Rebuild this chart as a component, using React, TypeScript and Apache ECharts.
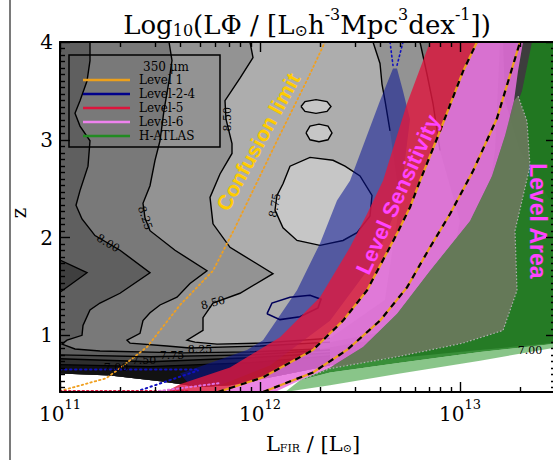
import { useEffect, useRef } from "react";
import * as echarts from "echarts";

type P = [number, number];

// ---------- axes (x = log10 L_FIR, y = z) ----------
const X_MIN = 11;
const X_MAX = 13.48;
const Y_MIN = 0.42;
const Y_MAX = 4.0;
const X_DECADES = [11, 12, 13];
const X_MINOR_MULTIPLIERS = [2, 3, 4, 5, 6, 7, 8, 9];
const Y_MAJOR = [1, 2, 3, 4];
const Y_MINOR_PER_UNIT = 15;

// ---------- legend ----------
const LEGEND_TITLE = "350 μm";
const LEGEND_LABELS = ["Level 1", "Level-2-4", "Level-5", "Level-6", "H-ATLAS"];
const LEGEND_COLORS = ["#eca01c", "#00008b", "#dc143c", "#ee82ee", "#228b22"];

// ---------- grey-scale luminosity-function contours ----------
const BASE_REGION: P[] = [[11, 4], [13.6, 4], [13.6, 1.0], [13.465, 0.92], [13.1, 0.85], [12.7, 0.77], [12.35, 0.69], [12.1, 0.59], [11.85, 0.49], [11.7, 0.47], [11.5, 0.53], [11.25, 0.59], [11, 0.61]];
const DARK_TOP_RIGHT: P[] = [[13.215, 4], [13.6, 4], [13.6, 1.87], [13.3, 2.89], [13.225, 3.4]];
const C800: P[] = [[11.15, 4.0], [11.15, 3.81], [11.135, 3.6], [11.1, 3.4], [11.075, 3.27], [11.1, 3.14], [11.15, 2.99], [11.14, 2.73], [11.1, 2.48], [11.08, 2.33], [11.11, 2.19], [11.175, 2.02], [11.3, 1.87], [11.45, 1.64], [11.3, 1.43], [11.2, 1.33], [11.15, 1.26], [11.115, 1.1], [11.11, 1.0], [11.035, 0.95], [11.01, 0.91], [11.075, 0.86], [11.2, 0.84], [11.615, 0.82], [11.95, 0.83], [12.3, 0.86]];
const C800_CLOSE: P[] = [[12.85, 1.05], [13.1, 1.87], [13.175, 2.89], [13.2, 4.0]];
const C825: P[] = [[11.545, 4.0], [11.56, 3.81], [11.545, 3.6], [11.52, 3.3], [11.5, 2.99], [11.475, 2.79], [11.45, 2.53], [11.415, 2.35], [11.425, 2.2], [11.45, 2.07], [11.575, 1.87], [11.735, 1.66], [11.65, 1.53], [11.585, 1.39], [11.5, 1.31], [11.45, 1.23], [11.415, 1.15], [11.4, 1.02], [11.335, 0.95], [11.35, 0.92], [11.535, 0.89], [11.65, 0.87], [12.0, 0.89], [12.35, 0.93]];
const C825_CLOSE: P[] = [[12.9, 1.15], [13.0, 2.17], [12.9, 2.89], [12.865, 3.37], [12.835, 3.67], [12.8, 4.0]];
const C825_RIGHT: P[] = [[12.8, 4.0], [12.835, 3.67], [12.865, 3.37], [12.9, 2.89]];
const C850: P[] = [[11.95, 4.0], [11.965, 3.84], [11.9, 3.63], [11.825, 3.4], [11.83, 3.21], [11.86, 2.96], [11.86, 2.86], [11.8, 2.65], [11.75, 2.41], [11.765, 2.14], [11.85, 1.9], [12.065, 1.63], [11.9, 1.43], [11.765, 1.33], [11.715, 1.18], [11.715, 1.05], [11.635, 0.95], [11.675, 0.93], [11.785, 0.91], [12.0, 0.92], [12.35, 0.97]];
const C850_CLOSE: P[] = [[12.625, 1.36], [12.7, 2.38], [12.65, 3.09], [12.625, 3.4], [12.61, 3.57], [12.6, 3.78], [12.565, 4.0]];
const C850_RIGHT: P[] = [[12.565, 4.0], [12.6, 3.78], [12.61, 3.57], [12.625, 3.4], [12.65, 3.09]];
const C875_BLOB: P[] = [[12.115, 2.55], [12.15, 2.73], [12.25, 2.82], [12.365, 2.79], [12.425, 2.73], [12.5, 2.63], [12.56, 2.43], [12.55, 2.22], [12.485, 2.05], [12.415, 1.97], [12.3, 1.92], [12.185, 1.97], [12.115, 2.1], [12.075, 2.28], [12.085, 2.43]];
const C875_SMALL_1: P[] = [[12.205, 3.34], [12.225, 3.39], [12.28, 3.41], [12.335, 3.39], [12.355, 3.34], [12.335, 3.29], [12.28, 3.27], [12.225, 3.29]];
const C875_SMALL_2: P[] = [[12.23, 3.07], [12.25, 3.14], [12.295, 3.16], [12.34, 3.14], [12.36, 3.07], [12.34, 3.0], [12.295, 2.98], [12.25, 3.0]];
const C775_WEDGE: P[] = [[11, 1.77], [11.135, 1.64], [11, 1.44]];
const LOWER_EDGE: P[] = [[12.35, 0.69], [12.1, 0.59], [11.85, 0.49], [11.7, 0.47], [11.5, 0.53], [11.25, 0.59], [11, 0.61]];
const C775_BOTTOM: P[] = [[11, 0.8], [11.45, 0.78], [11.95, 0.8], [12.35, 0.85]];
const C750_BOTTOM: P[] = [[11, 0.76], [11.45, 0.73], [11.95, 0.77], [12.35, 0.82]];
const C700_BOTTOM: P[] = [[11, 0.7], [11.45, 0.68], [11.95, 0.72], [12.35, 0.79]];

// ---------- survey bands ----------
const BLUE_BAND: P[] = [[11.6, 0.61], [11.7, 0.68], [11.935, 0.85], [12.015, 0.95], [12.185, 1.46], [12.3, 1.94], [12.385, 2.38], [12.45, 2.58], [12.525, 2.99], [12.6, 3.4], [12.665, 3.73], [12.685, 3.73], [12.715, 3.5], [12.75, 3.21], [12.7, 2.38], [12.575, 1.77], [12.35, 1.15], [12.05, 0.69], [11.8, 0.49], [11.65, 0.49]];
const BLUE_LOOP: P[] = [[12.035, 1.22], [12.06, 1.33], [12.15, 1.39], [12.25, 1.41], [12.305, 1.37], [12.29, 1.28], [12.2, 1.19], [12.1, 1.16]];
const RED_LEFT: P[] = [[11.525, 0.42], [11.6, 0.5], [11.85, 0.67], [12.1, 0.98], [12.3, 1.39], [12.45, 1.9], [12.535, 2.24], [12.615, 2.58], [12.735, 3.37], [12.85, 4.0]];
const DASHED_1: P[] = [[11.79, 0.42], [12.015, 0.57], [12.265, 0.85], [12.415, 1.15], [12.535, 1.46], [12.615, 1.77], [12.685, 2.04], [12.75, 2.31], [12.8, 2.58], [12.9, 3.09], [13.015, 3.7], [13.085, 4.0]];
const DASHED_2: P[] = [[12.015, 0.42], [12.265, 0.62], [12.435, 0.85], [12.6, 1.15], [12.735, 1.49], [12.85, 1.9], [12.95, 2.24], [13.065, 2.68], [13.185, 3.22], [13.3, 4.0]];
const PINK_RIGHT: P[] = [[13.315, 4.0], [13.29, 3.7], [13.27, 3.4], [13.225, 3.04], [13.16, 2.63], [13.05, 2.17], [12.85, 1.66], [12.685, 1.22], [12.515, 0.88], [12.35, 0.67], [12.2, 0.54], [12.075, 0.42]];
const GREEN_BAND: P[] = [[12.2, 0.54], [12.35, 0.67], [12.515, 0.88], [12.685, 1.22], [12.85, 1.66], [13.05, 2.17], [13.16, 2.63], [13.225, 3.04], [13.31, 3.5], [13.36, 4.0], [13.6, 4.0], [13.6, 0.94], [13.465, 0.91], [13.1, 0.83], [12.7, 0.72], [12.35, 0.62]];
const GREEN_LOWER: P[] = [[12.2, 0.54], [12.35, 0.62], [12.7, 0.72], [13.1, 0.83], [13.465, 0.91], [13.6, 0.94], [13.6, 0.9], [13.465, 0.87], [13.1, 0.74], [12.7, 0.61], [12.35, 0.49], [12.125, 0.42]];
const OVERLAP_EDGE: P[] = [[12.2, 0.54], [12.35, 0.66], [12.685, 0.78], [13.015, 0.92], [13.215, 1.05], [13.285, 1.46], [13.275, 2.07], [13.35, 2.73], [13.335, 3.19], [13.29, 3.45]];

// ---------- dotted limit lines ----------
const CONFUSION_LINE: P[] = [[11, 0.43], [11.23, 0.56], [11.285, 0.64], [11.435, 0.88], [11.6, 1.31], [11.765, 1.66], [11.875, 2.1], [12.085, 2.99], [12.24, 3.63], [12.325, 4.0]];
const BLUE_DOT_FLAT: P[] = [[11, 0.65], [11.69, 0.65]];
const BLUE_DOT_RISE: P[] = [[11.405, 0.44], [11.69, 0.64]];
const BLUE_SPIKE_L: P[] = [[12.65, 4.0], [12.665, 3.76]];
const BLUE_SPIKE_R: P[] = [[12.715, 4.0], [12.685, 3.76]];
const RED_DOT: P[] = [[11, 0.43], [11.65, 0.43]];
const PINK_DOT: P[] = [[11.495, 0.43], [11.795, 0.51]];

// ---------- annotations ----------
const BAND_LABEL_TEXT = ["Confusion limit", "Level Sensitivity", "Level Area"];
const BAND_LABEL_AT: P[] = [[11.99, 2.98], [12.69, 2.44], [13.39, 2.17]];
const BAND_LABEL_ROT = [1.073, 1.143, -Math.PI / 2];
const CONTOUR_LABEL_TEXT = ["8.00", "8.25", "8.50", "8.50", "8.75", "8.25", "7.75", "7.50", "7.00", "7.00"];
const CONTOUR_LABEL_AT: P[] = [[11.24, 1.94], [11.425, 2.2], [11.765, 1.33], [11.835, 3.21], [12.075, 2.33], [11.7, 0.85], [11.56, 0.79], [11.42, 0.74], [11.28, 0.67], [13.35, 0.84]];
const CONTOUR_LABEL_ROT = [-0.54, -1.25, 0.26, Math.PI / 2, 1.4, 0, 0, 0, 0, 0];

const SERIF = "DejaVu Serif";
const SANS = "Liberation Sans";

type Layer =
  | { kind: "poly"; pts: P[]; fill: string }
  | { kind: "line"; pts: P[]; stroke: string; width: number; dash?: number[]; cap?: string }
  | { kind: "text"; at: P; text: string; rot: number; color: string; size: number; family: string; weight: string };

const closed = (p: P[]): P[] => [...p, p[0]];
const rev = (p: P[]): P[] => [...p].reverse();

function buildLayers(): Layer[] {
  const L: Layer[] = [];
  const poly = (pts: P[], fill: string) => L.push({ kind: "poly", pts, fill });
  const line = (pts: P[], stroke: string, width: number, dash?: number[], cap?: string) =>
    L.push({ kind: "line", pts, stroke, width, dash, cap });

  poly(BASE_REGION, "#5f5f5f");
  poly(DARK_TOP_RIGHT, "#3d3d3d");
  poly([...C800, ...C800_CLOSE], "#797979");
  poly([...C825, ...C825_CLOSE], "#939393");
  poly([...C850, ...C850_CLOSE], "#adadad");
  poly(C875_BLOB, "#c6c6c6");
  poly(C875_SMALL_1, "#c6c6c6");
  poly(C875_SMALL_2, "#c6c6c6");
  poly(C775_WEDGE, "#3f3f3f");
  poly([...C775_BOTTOM, ...LOWER_EDGE], "#4a4a4a");
  poly([...C750_BOTTOM, ...LOWER_EDGE], "#2e2e2e");
  poly([...C700_BOTTOM, ...LOWER_EDGE], "#121212");

  [C800, C825, C850, C825_RIGHT, C850_RIGHT, closed(C875_BLOB), closed(C875_SMALL_1), closed(C875_SMALL_2), C775_WEDGE, C775_BOTTOM, C750_BOTTOM, C700_BOTTOM].forEach((c) =>
    line(c, "#000", 1.4)
  );

  poly(BLUE_BAND, "rgba(10,20,150,0.55)");
  line(closed(BLUE_LOOP), "#00005a", 1.6);
  poly([...RED_LEFT, ...rev(DASHED_1)], "rgba(222,24,64,0.82)");
  poly(GREEN_BAND, "rgba(30,128,30,0.88)");
  poly(GREEN_LOWER, "rgba(40,150,40,0.55)");
  poly([...rev(PINK_RIGHT).slice(1, 10).reverse(), ...OVERLAP_EDGE], "rgba(106,120,92,0.92)");
  poly([...DASHED_1, ...PINK_RIGHT], "rgba(232,112,222,0.86)");

  line(OVERLAP_EDGE, "#b0b0b0", 1.2, [1.5, 2]);
  line(CONFUSION_LINE, "#f0a020", 1.8, [1.5, 3], "round");
  line(BLUE_DOT_FLAT, "#1010c0", 2, [1.5, 3.5], "round");
  line(BLUE_DOT_RISE, "#1010c0", 2, [1.5, 3.5], "round");
  line(BLUE_SPIKE_L, "#1010c0", 1.6, [1.5, 3], "round");
  line(BLUE_SPIKE_R, "#1010c0", 1.6, [1.5, 3], "round");
  line(RED_DOT, "#e01840", 2, [1.5, 3], "round");
  line(PINK_DOT, "#e070e0", 2, [1.5, 3], "round");

  [DASHED_1, DASHED_2].forEach((d) => {
    line(d, "#eca01c", 2.2);
    line(d, "#000", 2.2, [6, 6]);
  });

  BAND_LABEL_TEXT.forEach((t, i) =>
    L.push({
      kind: "text",
      at: BAND_LABEL_AT[i],
      text: t,
      rot: BAND_LABEL_ROT[i],
      color: i === 0 ? "#ffcc00" : "#ff44ff",
      size: i === 0 ? 21 : i === 1 ? 22 : 23,
      family: SANS,
      weight: "bold",
    })
  );
  CONTOUR_LABEL_TEXT.forEach((t, i) =>
    L.push({ kind: "text", at: CONTOUR_LABEL_AT[i], text: t, rot: CONTOUR_LABEL_ROT[i], color: "#000", size: 11, family: SERIF, weight: "normal" })
  );
  return L;
}

export default function App() {
  const ref = useRef<HTMLDivElement>(null);

  useEffect(() => {
    if (!ref.current) return;
    const chart = echarts.init(ref.current, null, { renderer: "svg" });
    const layers = buildLayers();

    const xMinor = X_DECADES.flatMap((d) => X_MINOR_MULTIPLIERS.map((m) => d + Math.log10(m))).filter((v) => v < X_MAX);
    const yMinor: number[] = [];
    for (let i = Math.ceil(Y_MIN * Y_MINOR_PER_UNIT); i <= Y_MAX * Y_MINOR_PER_UNIT; i++) {
      if (i % Y_MINOR_PER_UNIT !== 0) yMinor.push(i / Y_MINOR_PER_UNIT);
    }

    const axisLine = { show: true, onZero: false, lineStyle: { color: "#000", width: 2 } };
    const noLine = { show: false, onZero: false };
    const xBase = { type: "value", min: X_MIN, max: X_MAX, splitLine: { show: false }, z: 10 };
    const yBase = { type: "value", min: Y_MIN, max: Y_MAX, splitLine: { show: false }, z: 10 };
    const tick = (vals: number[], len: number) => ({
      show: true,
      inside: true,
      length: len,
      customValues: vals,
      lineStyle: { color: "#000", width: 1.4 },
    });

    const option: any = {
      animation: false,
      backgroundColor: "#fff",
      textStyle: { fontFamily: SERIF },
      grid: { left: 60, top: 42, width: 496, height: 350, containLabel: false, outerBoundsMode: "none", show: false },
      xAxis: [
        {
          ...xBase,
          position: "bottom",
          axisLine,
          axisTick: tick(X_DECADES, 10),
          axisLabel: {
            customValues: X_DECADES,
            margin: 6,
            formatter: (v: number) => `{b|10}{s|${Math.round(v)}}`,
            rich: {
              b: { fontSize: 20, fontFamily: SERIF, color: "#000", lineHeight: 26, verticalAlign: "bottom" },
              s: { fontSize: 13, fontFamily: SERIF, color: "#000", lineHeight: 16, verticalAlign: "top" },
            },
          },
        },
        { ...xBase, position: "bottom", axisLine: noLine, axisTick: tick(xMinor, 5), axisLabel: { show: false } },
        { ...xBase, position: "top", axisLine, axisTick: tick(X_DECADES, 10), axisLabel: { show: false } },
        { ...xBase, position: "top", axisLine: noLine, axisTick: tick(xMinor, 5), axisLabel: { show: false } },
      ],
      yAxis: [
        {
          ...yBase,
          position: "left",
          axisLine,
          axisTick: tick(Y_MAJOR, 10),
          axisLabel: {
            customValues: Y_MAJOR,
            margin: 7,
            fontSize: 20,
            fontFamily: SERIF,
            color: "#000",
            formatter: (v: number) => String(Math.round(v)),
          },
        },
        { ...yBase, position: "left", axisLine: noLine, axisTick: tick(yMinor, 5), axisLabel: { show: false } },
        { ...yBase, position: "right", axisLine, axisTick: tick(Y_MAJOR, 10), axisLabel: { show: false } },
        { ...yBase, position: "right", axisLine: noLine, axisTick: tick(yMinor, 5), axisLabel: { show: false } },
      ],
      series: [
        {
          type: "custom",
          coordinateSystem: "cartesian2d",
          xAxisIndex: 0,
          yAxisIndex: 0,
          clip: true,
          silent: true,
          z: 2,
          data: [[12, 2]],
          renderItem: (_params: any, api: any) => ({
            type: "group",
            children: layers.map((l) => {
              if (l.kind === "poly") {
                return { type: "polygon", silent: true, shape: { points: l.pts.map((p) => api.coord(p)) }, style: { fill: l.fill } };
              }
              if (l.kind === "line") {
                return {
                  type: "polyline",
                  silent: true,
                  shape: { points: l.pts.map((p) => api.coord(p)) },
                  style: { stroke: l.stroke, lineWidth: l.width, lineDash: l.dash, lineCap: l.cap || "butt", fill: null },
                };
              }
              const c = api.coord(l.at);
              return {
                type: "text",
                silent: true,
                x: c[0],
                y: c[1],
                rotation: l.rot,
                style: {
                  text: l.text,
                  fill: l.color,
                  fontSize: l.size,
                  fontFamily: l.family,
                  fontWeight: l.weight,
                  align: "center",
                  verticalAlign: "middle",
                },
              };
            }),
          }),
        },
      ],
      graphic: [
        { type: "line", z: 100, shape: { x1: 10, y1: 0, x2: 10, y2: 460 }, style: { stroke: "#7a7a7a", lineWidth: 2 } },
        {
          type: "text",
          z: 100,
          x: 307,
          y: 22,
          style: {
            text: "{a|Log}{b|10}{a|(LΦ / [L}{b|⊙}{a|h}{c|-3}{a|Mpc}{c|3}{a|dex}{c|-1}{a|])}",
            align: "center",
            verticalAlign: "middle",
            rich: {
              a: { fontSize: 26, fontFamily: SERIF, fill: "#000", color: "#000", lineHeight: 32, verticalAlign: "bottom" },
              b: { fontSize: 16, fontFamily: SERIF, fill: "#000", color: "#000", lineHeight: 16, verticalAlign: "bottom" },
              c: { fontSize: 16, fontFamily: SERIF, fill: "#000", color: "#000", lineHeight: 22, verticalAlign: "top" },
            },
          },
        },
        {
          type: "text",
          z: 100,
          x: 313,
          y: 441,
          style: {
            text: "{a|L}{b|FIR}{a| / [L}{b|⊙}{a|]}",
            align: "center",
            verticalAlign: "middle",
            rich: {
              a: { fontSize: 21, fontFamily: SERIF, fill: "#000", color: "#000", lineHeight: 26, verticalAlign: "bottom" },
              b: { fontSize: 11, fontFamily: SERIF, fill: "#000", color: "#000", lineHeight: 12, verticalAlign: "bottom" },
            },
          },
        },
        {
          type: "text",
          z: 100,
          x: 19,
          y: 213,
          rotation: Math.PI / 2,
          style: { text: "z", fontSize: 20, fontFamily: SERIF, fill: "#000", align: "center", verticalAlign: "middle" },
        },
        { type: "rect", z: 100, shape: { x: 69, y: 55, width: 151, height: 92 }, style: { fill: "none", stroke: "#000", lineWidth: 1.5 } },
        {
          type: "text",
          z: 100,
          x: 166,
          y: 67,
          style: { text: LEGEND_TITLE, fontSize: 12, fontFamily: SERIF, fill: "#000", align: "center", verticalAlign: "middle" },
        },
        ...LEGEND_LABELS.flatMap((lab, i) => [
          {
            type: "line",
            z: 100,
            shape: { x1: 83, y1: 80 + 14 * i, x2: 130, y2: 80 + 14 * i },
            style: { stroke: LEGEND_COLORS[i], lineWidth: 2.5 },
          },
          {
            type: "text",
            z: 100,
            x: 139,
            y: 80 + 14 * i,
            style: { text: lab, fontSize: 12, fontFamily: SERIF, fill: "#000", align: "left", verticalAlign: "middle" },
          },
        ]),
      ],
    };

    chart.setOption(option);
    return () => chart.dispose();
  }, []);

  return (
    <div
      ref={ref}
      style={{ position: "absolute", left: 0, top: 0, width: 553, height: 460, background: "#fff", overflow: "hidden" }}
    />
  );
}
